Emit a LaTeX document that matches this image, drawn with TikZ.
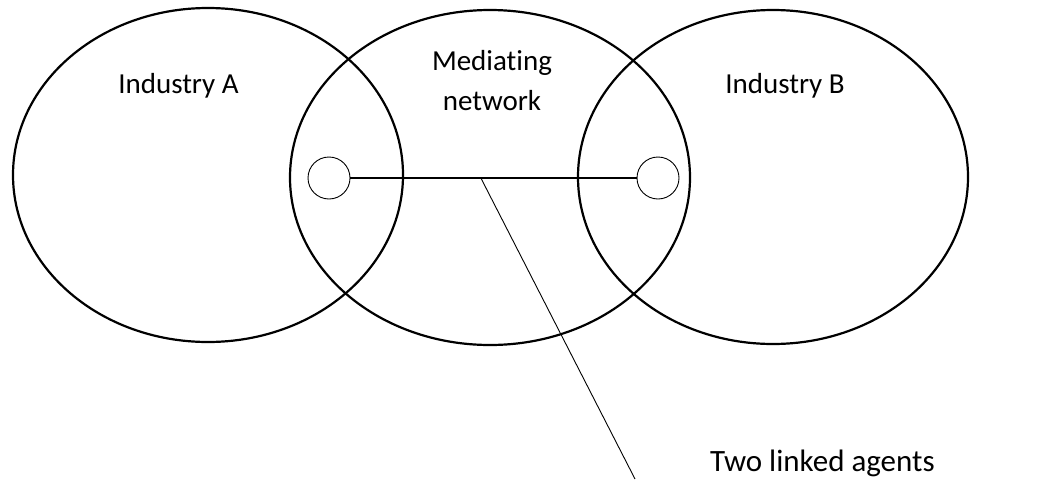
\documentclass[tikz,border=0pt]{standalone}
\usepackage{fontspec}
\setmainfont{Carlito}[Ligatures=NoCommon]
\usetikzlibrary{shapes.geometric}
\begin{document}
\begin{tikzpicture}[x=1pt,y=-1pt,
  setshape/.style={draw, ellipse, line width=2.2pt, inner sep=0pt, outer sep=0pt},
  agent/.style={draw, circle, line width=0.9pt, minimum size=42pt, inner sep=0pt, outer sep=0pt},
  linkline/.style={line width=1.7pt},
  leader/.style={line width=0.9pt},
  lab/.style={font=\fontsize{29}{40}\selectfont, inner sep=0pt, align=center},
  biglab/.style={font=\fontsize{31}{38}\selectfont, inner sep=0pt}]
\useasboundingbox (0,0) rectangle (1049,482);
\node[setshape, minimum width=390pt, minimum height=334pt] (A) at (208,175) {};
\node[setshape, minimum width=400pt, minimum height=335pt] (M) at (490,177.5) {};
\node[setshape, minimum width=390pt, minimum height=334pt] (B) at (773,177) {};
\node[agent] (cl) at (329,178) {};
\node[agent] (cr) at (658,178) {};
\draw[linkline] (cl.east) -- coordinate[pos=0.456] (lead) (cr.west);
\coordinate (tip) at (635,479);
\draw[leader] (lead) -- (tip);
\node[lab, anchor=base] (ta) at (178.5,93) {Industry A};
\node[lab, anchor=base] (tm) at (492,110) {Mediating\\network};
\node[lab, anchor=base] (tb) at (785,93) {Industry B};
\node[biglab, anchor=base west] (tl) at (710,471) {Two linked agents};
\end{tikzpicture}
\end{document}
